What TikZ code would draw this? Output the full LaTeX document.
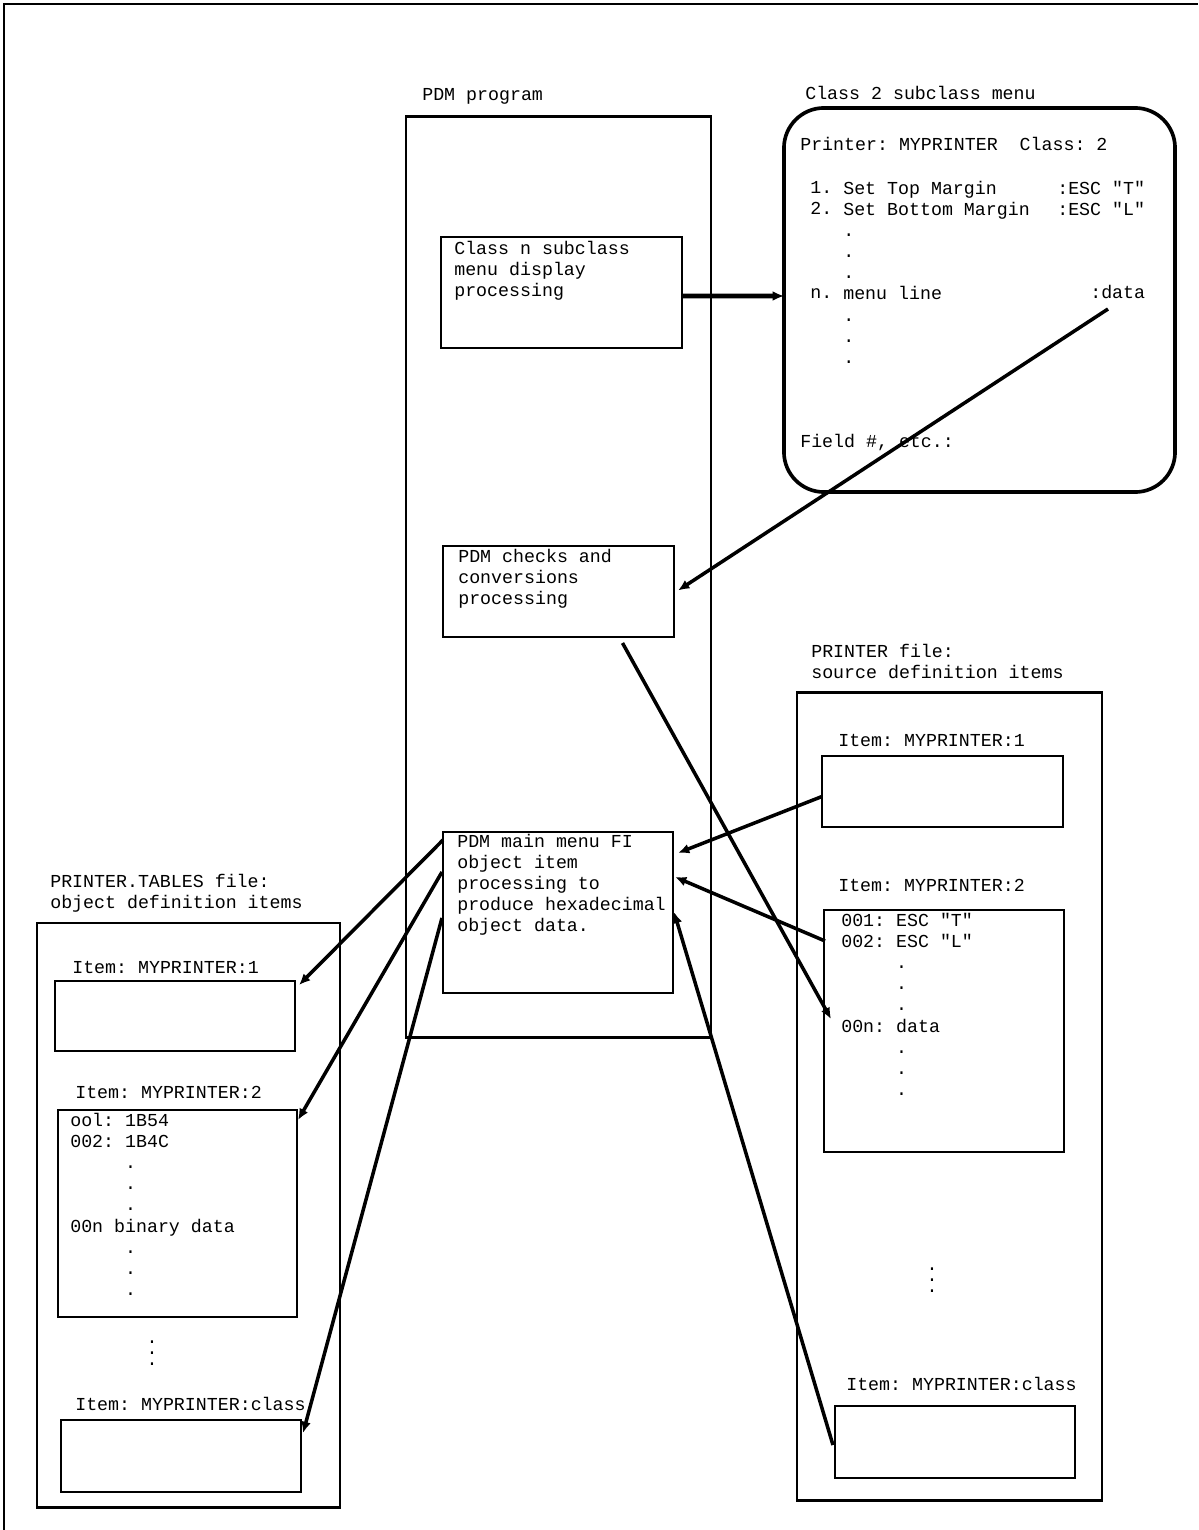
\documentclass[tikz,border=0pt]{standalone}
\usepackage{fontspec}
\setmonofont{Liberation Mono}
\usetikzlibrary{calc,arrows.meta}
\newcommand{\colondots}{\vbox{\baselineskip=8pt\lineskiplimit=0pt\hbox{.}\hbox{.}\hbox{.}}}
\begin{document}
\begin{tikzpicture}[x=0.025cm,y=-0.025cm,
    txt/.style={font=\ttfamily\fontsize{13}{15}\selectfont,inner sep=0pt,anchor=mid west},
    para/.style={txt,anchor=north west,align=left},
    dotcol/.style={font=\ttfamily\fontsize{13}{8}\selectfont,inner sep=0pt},
    bigbox/.style={draw,line width=2pt,inner sep=0pt,outer sep=0pt},
    box/.style={draw,line width=1.1pt,inner sep=0pt,outer sep=0pt},
    link/.style={line width=2.5pt,-{Latex[length=8pt,width=7pt]}}]
\useasboundingbox (0,0) rectangle (1198,1530);
\draw[line width=1.4pt] (3,4) -- (1198,4);
\draw[line width=1.4pt] (4,4) -- (4,1530);

%NODE
\node[txt] (pdmlbl) at (422,97) {PDM program};
\node[bigbox,minimum width=7.625cm,minimum height=23cm] (pdm) at (558.5,577) {};
\node[box,minimum width=6.025cm,minimum height=2.775cm] (disp) at (561.5,292.5) {};
\node[para] (disptxt) at (454,241) {Class n subclass\\menu display\\processing};
\node[box,minimum width=5.775cm,minimum height=2.275cm] (chk) at (558.5,591.5) {};
\node[para] (chktxt) at (458,549) {PDM checks and\\conversions\\processing};
\node[box,minimum width=5.75cm,minimum height=4.025cm] (main) at (558,912.5) {};
\node[para] (maintxt) at (457,834) {PDM main menu FI\\object item\\processing to\\produce hexadecimal\\object data.};

\node[txt] (menulbl) at (805,96) {Class 2 subclass menu};
\node[draw,line width=2.6pt,rounded corners=1cm,inner sep=0pt,outer sep=0pt,minimum width=9.775cm,minimum height=9.6cm] (menu) at (979.5,300) {};
\node[txt] (prt) at (800,147) {Printer: MYPRINTER\ \ Class: 2};
\node[para] (nums) at (810,181) {1.\\2.};
\node[txt] (nn) at (810,295) {n.};
\node[para] (lines) at (843,181) {Set Top Margin\\Set Bottom Margin\\.\\.\\.\\menu line\\.\\.\\.};
\node[para] (esc) at (1057,181) {:ESC "T"\\:ESC "L"};
\node[txt] (data) at (1090,295) {:data};
\node[txt] (field) at (800,444) {Field \#, etc.:};

\node[para] (srclbl) at (811,644) {PRINTER file:\\source definition items};
\node[bigbox,minimum width=7.625cm,minimum height=20.175cm] (src) at (949.5,1096.5) {};
\node[txt] (src1lbl) at (838,743) {Item: MYPRINTER:1};
\node[box,minimum width=6.025cm,minimum height=1.775cm] (src1) at (942.5,791.5) {};
\node[txt] (src2lbl) at (838,888) {Item: MYPRINTER:2};
\node[box,minimum width=6cm,minimum height=6.05cm] (src2) at (944,1031) {};
\node[para] (src2txt) at (841,913) {001: ESC "T"\\002: ESC "L"\\\phantom{00000}.\\\phantom{00000}.\\\phantom{00000}.\\00n: data\\\phantom{00000}.\\\phantom{00000}.\\\phantom{00000}.};
\node[dotcol] (srcdots) at (932,1280) {\colondots};
\node[txt] (srcclslbl) at (846,1387) {Item: MYPRINTER:class};
\node[box,minimum width=6cm,minimum height=1.8cm] (srccls) at (955,1442) {};

\node[para] (objlbl) at (50,874) {PRINTER.TABLES file:\\object definition items};
\node[bigbox,minimum width=7.575cm,minimum height=14.6cm] (obj) at (188.5,1215) {};
\node[txt] (obj1lbl) at (72,970) {Item: MYPRINTER:1};
\node[box,minimum width=6cm,minimum height=1.75cm] (obj1) at (175,1016) {};
\node[txt] (obj2lbl) at (75,1095) {Item: MYPRINTER:2};
\node[box,minimum width=5.975cm,minimum height=5.175cm] (obj2) at (177.5,1213.5) {};
\node[para] (obj2txt) at (70,1113) {ool: 1B54\\002: 1B4C\\\phantom{00000}.\\\phantom{00000}.\\\phantom{00000}.\\00n binary data\\\phantom{00000}.\\\phantom{00000}.\\\phantom{00000}.};
\node[dotcol] (objdots) at (152,1353) {\colondots};
\node[txt] (objclslbl) at (75,1407) {Item: MYPRINTER:class};
\node[box,minimum width=6cm,minimum height=1.8cm] (objcls) at (181,1456) {};

\coordinate (datatail) at (1108,309);
\coordinate (srcdata) at (831,1019);

%EDGE
\draw[link,line width=3.5pt] ($(disp.east)+(0,3.5)$) -- ($(menu.west)+(0,-4)$);
\draw[link] (datatail) -- ($(chk.east)+(4,-1)$);
\draw[link] ($(chk.south)+(64,6)$) -- (srcdata);
\draw[link] ($(main.north west)+(0,8)$) -- ($(obj1.north east)+(4,4)$);
\draw[link] ($(main.north west)+(-1,40)$) -- ($(obj2.north east)+(1,10)$);
\draw[link] ($(main.north west)+(-1,86)$) -- ($(objcls.north east)+(2,13)$);
\draw[link] ($(src1.west)+(0,5)$) -- ($(main.north east)+(5,21)$);
\draw[link] ($(src2.north west)+(1,31)$) -- ($(main.north east)+(2,45)$);
\draw[link] ($(srccls.west)+(-2,3)$) -- ($(main.north east)+(1,80)$);
\end{tikzpicture}
\end{document}
